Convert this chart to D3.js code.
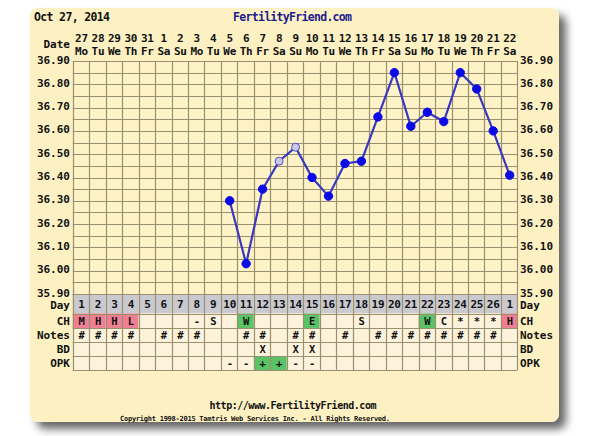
<!DOCTYPE html>
<html><head><meta charset="utf-8">
<script src="https://cdn.jsdelivr.net/npm/d3@7"></script>
<style>
html,body{margin:0;padding:0;background:#fff;}
svg text{font-family:"DejaVu Sans Mono","Liberation Mono",monospace;font-weight:bold;fill:#111;}
</style></head>
<body><svg id="c" width="600" height="436"></svg>
<script>
// ---- data ----
const dateNums = [27,28,29,30,31,1,2,3,4,5,6,7,8,9,10,11,12,13,14,15,16,17,18,19,20,21,22];
const weekdays = ["Mo","Tu","We","Th","Fr","Sa","Su","Mo","Tu","We","Th","Fr","Sa","Su","Mo","Tu","We","Th","Fr","Sa","Su","Mo","Tu","We","Th","Fr","Sa"];
const cycleDays = ["1","2","3","4","5","6","7","8","9","10","11","12","13","14","15","16","17","18","19","20","21","22","23","24","25","26","1"];
// temperatures (null = no reading); index = column
const temps = [null,null,null,null,null,null,null,null,null,36.30,36.03,36.35,36.47,36.53,36.40,36.32,36.46,36.47,36.66,36.85,36.62,36.68,36.64,36.85,36.78,36.60,36.41];
const openPoints = [12,13]; // hollow markers
const tempTicks = ["36.90","36.80","36.70","36.60","36.50","36.40","36.30","36.20","36.10","36.00","35.90"];
const chRow = ["M","H","H","L","","","","-","S","","W","","","","E","","","S","","","","W","C","*","*","*","H"];
const chColor = ["m","m","m","m","","","","","","","g","","","","g","","","","","","","g","","","","","m"];
const notesRow = ["#","#","#","#","","#","#","#","","","#","#","","#","#","","#","","#","#","#","#","#","#","#","#",""];
const bdRow = ["","","","","","","","","","","","X","","X","X","","","","","","","","","","","",""];
const opkRow = ["","","","","","","","","","-","-","+","+","-","-","","","","","","","","","","","",""];
const opkColor = ["","","","","","","","","","","","g","g","","","","","","","","","","","","","",""];
const rowLabels = ["Day","CH","Notes","BD","OPK"];

// ---- layout ----
const svg = d3.select("#c");
const L = 72.7, R = 517.4, T = 61, B = 294;
const x = d3.scaleBand().domain(d3.range(dateNums.length)).range([L, R]).padding(0);
const y = d3.scaleLinear().domain([35.9, 36.9]).range([B, T]);
const cw = x.bandwidth();
const rowEdges = [294, 313.5, 328, 342, 356, 370];
const gridCol = "#9a9070";
const FS = 11;

const defs = svg.append("defs");
const f = defs.append("filter").attr("id","sh").attr("x","-10%").attr("y","-10%").attr("width","125%").attr("height","125%");
f.append("feDropShadow").attr("dx",7).attr("dy",7).attr("stdDeviation",4.5).attr("flood-color","#000").attr("flood-opacity",0.6);

// card
svg.append("rect").attr("x",30).attr("y",8).attr("width",529).attr("height",414).attr("rx",8)
  .attr("fill","#fdf1c4").attr("filter","url(#sh)");

// plot background
svg.append("rect").attr("x",L).attr("y",T).attr("width",R-L).attr("height",B-T).attr("fill","#fef3c6");

// table backgrounds
const cellFill = (row, i) => {
  if (row===0) return "#c9c9cf";
  if (row===1) { if (chColor[i]==="m") return "#ef7f93"; if (chColor[i]==="g") return "#5cc266"; return "#fdf3dc"; }
  if (row===4 && opkColor[i]==="g") return "#5cc266";
  return "#fdf3dc";
};
for (let r=0;r<5;r++){
  svg.append("g").selectAll("rect").data(dateNums).join("rect")
    .attr("x",(d,i)=>x(i)).attr("y",rowEdges[r]).attr("width",cw).attr("height",rowEdges[r+1]-rowEdges[r])
    .attr("fill",(d,i)=>cellFill(r,i));
}

// horizontal grid lines in chart (every 0.05)
const hLines = d3.range(0,21).map(k => 35.9 + k*0.05);
svg.append("g").selectAll("line").data(hLines).join("line")
  .attr("x1",L).attr("x2",R).attr("y1",d=>Math.round(y(d))+0.5).attr("y2",d=>Math.round(y(d))+0.5)
  .attr("stroke",gridCol).attr("stroke-width",1.2);
// table horizontal lines
svg.append("g").selectAll("line").data(rowEdges).join("line")
  .attr("x1",L).attr("x2",R).attr("y1",d=>Math.round(d)+0.5).attr("y2",d=>Math.round(d)+0.5)
  .attr("stroke",gridCol).attr("stroke-width",1.2);
// vertical lines
const vx = d3.range(dateNums.length+1).map(i => i<dateNums.length ? x(i) : R);
svg.append("g").selectAll("line").data(vx).join("line")
  .attr("x1",d=>Math.round(d)+0.5).attr("x2",d=>Math.round(d)+0.5).attr("y1",T).attr("y2",rowEdges[5])
  .attr("stroke",gridCol).attr("stroke-width",1.2);

// header texts
svg.append("text").attr("x",34).attr("y",21).attr("font-size",11.5).attr("textLength",76).text("Oct 27, 2014");
svg.append("text").attr("x",233).attr("y",21).attr("font-size",11.5).attr("textLength",119).style("fill","#1c1c8c").text("FertilityFriend.com");
svg.append("text").attr("x",70).attr("y",48).attr("text-anchor","end").attr("font-size",FS).text("Date");
const hdr = svg.append("g").attr("font-size",FS).attr("text-anchor","middle").attr("letter-spacing",-0.3);
hdr.selectAll(".dn").data(dateNums).join("text").attr("class","dn")
  .attr("x",(d,i)=>x(i)+cw/2+0.5).attr("y",42).text(d=>d);
hdr.selectAll(".wd").data(weekdays).join("text").attr("class","wd")
  .attr("x",(d,i)=>x(i)+cw/2+0.5).attr("y",55).text(d=>d);

// temperature axis labels (left and right)
svg.append("g").attr("font-size",FS).attr("text-anchor","end").selectAll("text").data(tempTicks).join("text")
  .attr("x",70).attr("y",d=>y(+d)+2.5).text(d=>d);
svg.append("g").attr("font-size",FS).attr("text-anchor","start").selectAll("text").data(tempTicks).join("text")
  .attr("x",520).attr("y",d=>y(+d)+2.5).text(d=>d);

// row labels
const rowMid = r => (rowEdges[r]+rowEdges[r+1])/2 + 4;
svg.append("g").attr("font-size",FS).attr("text-anchor","end").selectAll("text").data(rowLabels).join("text")
  .attr("x",70).attr("y",(d,r)=>rowMid(r)+(r===0?1:0)).text(d=>d);
svg.append("g").attr("font-size",FS).attr("text-anchor","start").selectAll("text").data(rowLabels).join("text")
  .attr("x",520).attr("y",(d,r)=>rowMid(r)+(r===0?1:0)).text(d=>d);

// table contents
const rows = [cycleDays, chRow, notesRow, bdRow, opkRow];
rows.forEach((arr,r)=>{
  svg.append("g").attr("font-size", r===0 ? FS : 10.5).attr("text-anchor","middle").attr("letter-spacing",-0.3)
    .selectAll("text").data(arr).join("text")
    .attr("x",(d,i)=>x(i)+cw/2+0.5).attr("y",rowMid(r)).text(d=>d);
});

// temperature line
const pts = temps.map((t,i)=>({i,t})).filter(d=>d.t!==null);
svg.append("path").datum(pts)
  .attr("d", d3.line().x(d=>x(d.i)+cw/2+0.5).y(d=>y(d.t)))
  .attr("fill","none").attr("stroke","#3838c0").attr("stroke-width",2.2);
svg.append("g").selectAll("circle").data(pts).join("circle")
  .attr("cx",d=>x(d.i)+cw/2+0.5).attr("cy",d=>y(d.t)).attr("r",d=>openPoints.includes(d.i)?4:4.2)
  .attr("fill",d=>openPoints.includes(d.i)?"#c8c8e8":"#0a0ae6")
  .attr("stroke",d=>openPoints.includes(d.i)?"#5050c0":"#0a0ae6").attr("stroke-width",1);

// footer
svg.append("text").attr("x",293).attr("y",409).attr("text-anchor","middle").attr("font-size",10).attr("textLength",167).text("http://www.FertilityFriend.com");
svg.append("text").attr("x",255).attr("y",421).attr("text-anchor","middle").attr("font-size",7).attr("font-weight","normal").attr("textLength",270).text("Copyright 1998-2015 Tamtris Web Services Inc. - All Rights Reserved.");
</script></body></html>
